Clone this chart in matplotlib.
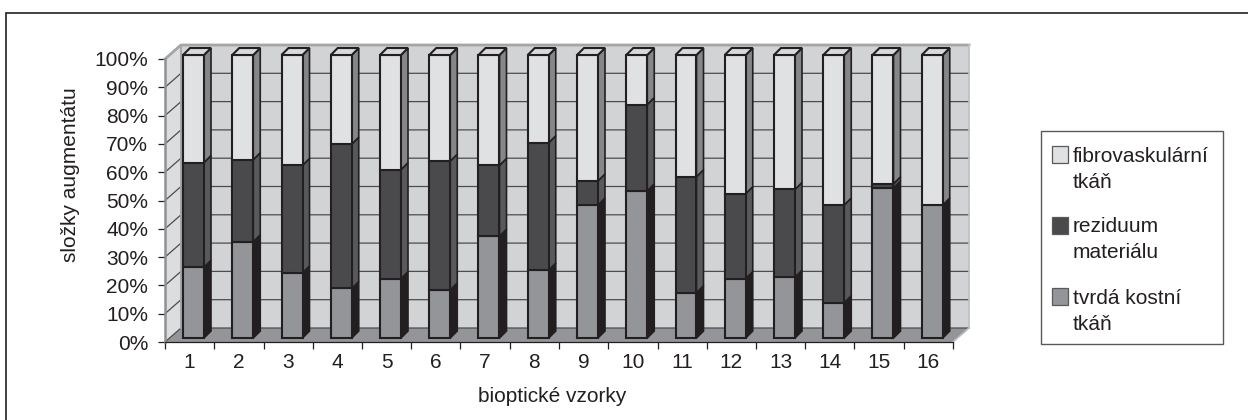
import matplotlib
matplotlib.use('Agg')
import matplotlib.pyplot as plt
from matplotlib.lines import Line2D
from matplotlib.patches import Rectangle

plt.rcParams['font.family'] = ['Liberation Sans', 'DejaVu Sans']

samples = [str(i) for i in range(1, 17)]
bone = [25, 34, 23, 17.5, 21, 17, 36, 24, 47, 52, 16, 21, 21.5, 12.5, 53, 47]
residue = [37, 29, 38, 51, 38.5, 45.5, 25, 45, 8.5, 30.5, 41, 30, 31, 34.5, 1.5, 0]
fibro = [38, 37, 39, 31.5, 40.5, 37.5, 39, 31, 44.5, 17.5, 43, 49, 47.5, 53, 45.5, 53]
series_names = ['tvrdá kostní\ntkáň', 'reziduum\nmateriálu', 'fibrovaskulární\ntkáň']
yticks = list(range(0, 101, 10))

INK = '#231f20'
front_cols = ['#939598', '#4a4a4c', '#e0e1e3']
side_cols = [INK, '#58595b', '#858689']
top_col = '#d8d9da'
WALL = '#d1d3d4'
FLOOR = '#939598'
GRID = '#4d4d4f'
RIM = '#a3a5a7'
FS = 15

W, H = 1248, 420
L, R, T, B = 165, 953, 59, 342

# 3d look: depth of the box and of the bars in data units
DX = 16 / 49.25
DY = 14 / 2.83
BAR_OFF = 18 / 49.25
BAR_W = 21 / 49.25
BAR_DX = 7 / 49.25
BAR_DY = 7 / 2.84
BAR_LIFT = 4 / 2.83


def initFigure():
    fig = plt.figure(figsize=(W / 100, H / 100), dpi=100)
    ax = fig.add_axes([L / W, 1 - B / H, (R - L) / W, (B - T) / H])
    ax.set_xlim(0, 16)
    ax.set_ylim(0, 100)
    ax.patch.set_visible(False)
    for s in ax.spines.values():
        s.set_visible(False)
    return fig, ax


def poly(ax, xs, ys, fc, ec='none', lw=0, z=1):
    ax.fill(xs, ys, facecolor=fc, edgecolor=ec, linewidth=lw, zorder=z,
            clip_on=False, joinstyle='miter')


def drawBox(ax):
    n = len(samples)
    # back wall, left wall, floor
    poly(ax, [DX, n + DX, n + DX, DX], [DY, DY, 100 + DY, 100 + DY], WALL, z=1)
    poly(ax, [0, DX, DX, 0], [0, DY, 100 + DY, 100], '#dcddde', z=1)
    poly(ax, [0, n, n + DX, DX], [0, 0, DY, DY], FLOOR, z=2)
    for v in yticks:
        ax.plot([0, DX, n + DX], [v, v + DY, v + DY], color=GRID, lw=0.9, zorder=2,
                clip_on=False, solid_joinstyle='miter')
    # light grey rim of the walls
    ax.plot([0, DX, n + DX], [100, 100 + DY, 100 + DY], color=RIM, lw=2.0, zorder=3, clip_on=False)
    ax.plot([n + DX, n + DX, n], [100 + DY, DY, 0], color='#bcbec0', lw=1.2, zorder=3, clip_on=False)
    ax.plot([0, 0], [0, 100], color='#8f9193', lw=1.8, zorder=3, clip_on=False)
    ax.plot([DX, DX], [DY, 100 + DY], color=RIM, lw=1.4, zorder=3, clip_on=False)
    ax.plot([0, n], [0, 0], color=INK, lw=0.9, zorder=4, clip_on=False)


def drawBars(ax):
    for i in range(len(samples)):
        x0 = i + BAR_OFF
        x1 = x0 + BAR_W
        base = BAR_LIFT
        for k, vals in enumerate([bone, residue, fibro]):
            v = vals[i]
            if v == 0:
                continue
            top = base + v
            poly(ax, [x0, x1, x1, x0], [base, base, top, top], front_cols[k], INK, 1.5, 6)
            poly(ax, [x1, x1 + BAR_DX, x1 + BAR_DX, x1],
                 [base, base + BAR_DY, top + BAR_DY, top], side_cols[k], INK, 1.2, 5)
            base = top
        poly(ax, [x0, x1, x1 + BAR_DX, x0 + BAR_DX],
             [base, base, base + BAR_DY, base + BAR_DY], top_col, INK, 1.5, 6)


def drawLegend(fig):
    # drawn by hand: the swatch sits beside the first line of each two-line entry
    fig.add_artist(Rectangle((1041 / W, 1 - 344 / H), 182 / W, 213 / H, transform=fig.transFigure,
                             facecolor='white', edgecolor='#58595b', linewidth=1.0))
    tops = [288, 217, 146]
    for k, y in zip(range(3), tops):
        fig.add_artist(Rectangle((1052 / W, 1 - (y + 17) / H), 16 / W, 17 / H, transform=fig.transFigure,
                                 facecolor=front_cols[k], edgecolor='#58595b', linewidth=0.9))
        fig.text(1073 / W, 1 - (y + 10) / H, series_names[k].split('\n')[0], fontsize=FS, color=INK,
                 va='center', ha='left')
        fig.text(1073 / W, 1 - (y + 36) / H, series_names[k].split('\n')[1], fontsize=FS, color=INK,
                 va='center', ha='left')


if __name__ == "__main__":
    fig, ax = initFigure()
    drawBox(ax)
    drawBars(ax)

    ax.set_xticks(range(len(samples) + 1))
    ax.set_xticklabels([])
    ax.set_xticks([i + 0.5 for i in range(len(samples))], minor=True)
    ax.set_xticklabels(samples, minor=True, fontsize=FS, color=INK)
    ax.tick_params(axis='x', which='major', length=5, width=0.9, color=INK)
    ax.tick_params(axis='x', which='minor', length=0, pad=8)
    ax.set_yticks(yticks)
    ax.set_yticklabels(['%d%%' % v for v in yticks], fontsize=FS, color=INK)
    ax.tick_params(axis='y', length=5, width=0.9, color=INK, pad=7)
    ax.set_xlabel('bioptické vzorky', fontsize=FS, color=INK)
    ax.xaxis.set_label_coords(552.5 / W, 1 - 397 / H, transform=fig.transFigure)
    ax.xaxis.label.set_verticalalignment('center')
    ax.set_ylabel('složky augmentátu', fontsize=FS, color=INK)
    ax.yaxis.set_label_coords(71 / W, 1 - 175 / H, transform=fig.transFigure)
    ax.yaxis.label.set_verticalalignment('center')

    drawLegend(fig)

    # page frame runs off the right and bottom of the crop
    fig.add_artist(Line2D([5.5 / W, 5.5 / W, 1], [0, 1 - 13 / H, 1 - 13 / H], transform=fig.transFigure,
                          color=INK, linewidth=1.2, solid_joinstyle='miter'))

    fig.savefig('out.png', dpi=100)
